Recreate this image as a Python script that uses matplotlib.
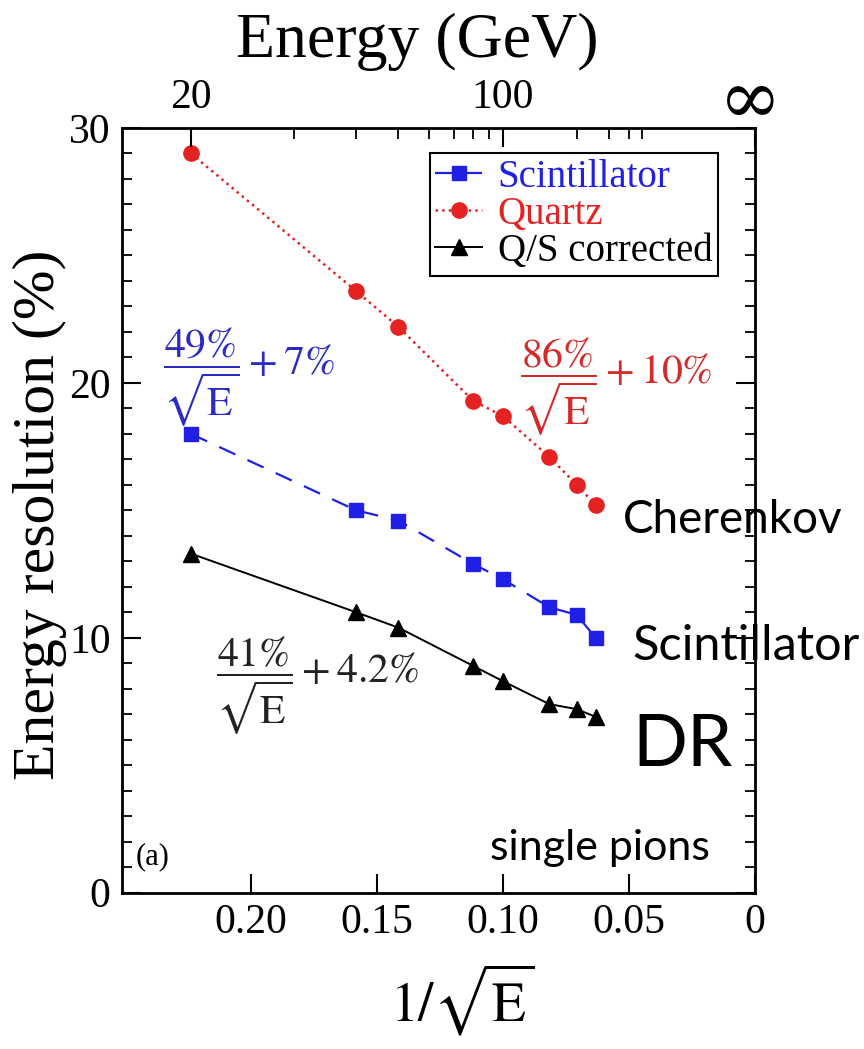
# energy resolution vs 1/sqrt(E), dual readout single pions
import numpy as np
import matplotlib.pyplot as plt
from matplotlib.ticker import MultipleLocator

plt.rcParams['font.family'] = ['Liberation Serif', 'DejaVu Serif']
plt.rcParams['mathtext.fontset'] = 'stix'

# data (x = 1/sqrt(E), E = 20,40,50,80,100,150,200,250 GeV)
inv_sqrt_e = [0.2236, 0.1581, 0.1414, 0.1118, 0.1000, 0.0816, 0.0707, 0.0632]
scint = [18.0, 15.0, 14.6, 12.9, 12.3, 11.2, 10.9, 10.0]
quartz = [29.0, 23.6, 22.2, 19.3, 18.7, 17.1, 16.0, 15.2]
qs_corr = [13.3, 11.0, 10.4, 8.9, 8.3, 7.4, 7.2, 6.9]

x_ticks = [0.20, 0.15, 0.10, 0.05, 0.0]
x_ticklabels = ['0.20', '0.15', '0.10', '0.05', '0']
top_major = [20, 100]
top_minor = [30, 40, 50, 60, 70, 80, 90, 200, 300, 400, 500]

blue = '#1f1fe6'
red = '#e52222'

fig = plt.figure(figsize=(8.64, 10.49), dpi=100)
ax = fig.add_axes([0.141, 0.149, 0.733, 0.729])

ax.plot(inv_sqrt_e, scint, color=blue, ls=(0, (8, 6)), lw=1.6, marker='s', ms=10,
        label='Scintillator')
ax.plot(inv_sqrt_e, quartz, color=red, ls=':', lw=1.8, marker='o', ms=11,
        label='Quartz')
ax.plot(inv_sqrt_e, qs_corr, color='black', ls='-', lw=1.4, marker='^', ms=12,
        label='Q/S corrected')

ax.set_xlim(0.251, 0.0)
ax.set_ylim(0, 30)
ax.set_xticks(x_ticks)
ax.set_xticklabels(x_ticklabels)
ax.set_yticks([0, 10, 20, 30])
ax.yaxis.set_minor_locator(MultipleLocator(1))
ax.tick_params(axis='both', which='major', direction='in', length=14, width=1.5,
               labelsize=30, pad=8)
ax.tick_params(axis='y', which='both', right=True)
ax.tick_params(axis='y', which='minor', direction='in', length=7, width=1.3)
ax.tick_params(axis='x', top=False)
for s in ax.spines.values():
    s.set_linewidth(2)

# top axis: energy
ax2 = ax.twiny()
ax2.set_xlim(ax.get_xlim())
ax2.set_xticks([1 / np.sqrt(e) for e in top_major] + [0.0])
ax2.set_xticklabels([str(e) for e in top_major] + [''])
ax2.set_xticks([1 / np.sqrt(e) for e in top_minor], minor=True)
ax2.tick_params(axis='x', which='major', direction='in', length=14, width=1.5,
                labelsize=30, pad=8)
ax2.tick_params(axis='x', which='minor', direction='in', length=8, width=1.3)
fig.text(750 / 864, 1 - 102 / 1049, '\u221e', fontsize=54, ha='center', va='center',
         family=['DejaVu Serif'])

leg = ax.legend(loc='upper right', bbox_to_anchor=(0.9415, 0.967), borderaxespad=0,
                fontsize=28, frameon=True, fancybox=False, edgecolor='black',
                handlelength=1.2, handletextpad=0.4, borderpad=0.15,
                labelspacing=0.0, framealpha=1)
leg.get_frame().set_linewidth(1.5)
for txt, c in zip(leg.get_texts(), [blue, red, 'black']):
    txt.set_color(c)

# fit annotations
ax.text(0.2346, 20.2, r'$\dfrac{49\%}{\sqrt{\mathrm{E}}}+7\%$', color='#2b2bc4',
        fontsize=30, ha='left', va='center')
ax.text(0.0930, 19.85, r'$\dfrac{86\%}{\sqrt{\mathrm{E}}}+10\%$', color='#d42a2a',
        fontsize=30, ha='left', va='center')
ax.text(0.2138, 8.1, r'$\dfrac{41\%}{\sqrt{\mathrm{E}}}+4.2\%$', color='#222222',
        fontsize=30, ha='left', va='center')
ax.text(0.2455, 1.4, '(a)', fontsize=22, ha='left', va='center')

# axis titles
fig.text(417 / 864, 1 - 42 / 1049, 'Energy (GeV)', fontsize=46, ha='center', va='center')
fig.text(40 / 864, 1 - 515 / 1049, 'Energy resolution (%)', fontsize=43, rotation=90,
         ha='center', va='center')
fig.text(462 / 864, 1 - 1000 / 1049, r'$1/\sqrt{\mathrm{E}}$', fontsize=40,
         ha='center', va='center')

# side labels
sans = ['Lato', 'DejaVu Sans']
fig.text(623 / 864, 1 - 533 / 1049, 'Cherenkov', fontsize=33, family=sans, va='baseline')
fig.text(632 / 864, 1 - 660 / 1049, 'Scintillator', fontsize=35, family=sans, va='baseline')
fig.text(632 / 864, 1 - 766 / 1049, 'DR', fontsize=52, family=sans, va='baseline')
fig.text(490 / 864, 1 - 860 / 1049, 'single pions', fontsize=31, family=sans, va='baseline')

fig.savefig('out.png', dpi=100)
